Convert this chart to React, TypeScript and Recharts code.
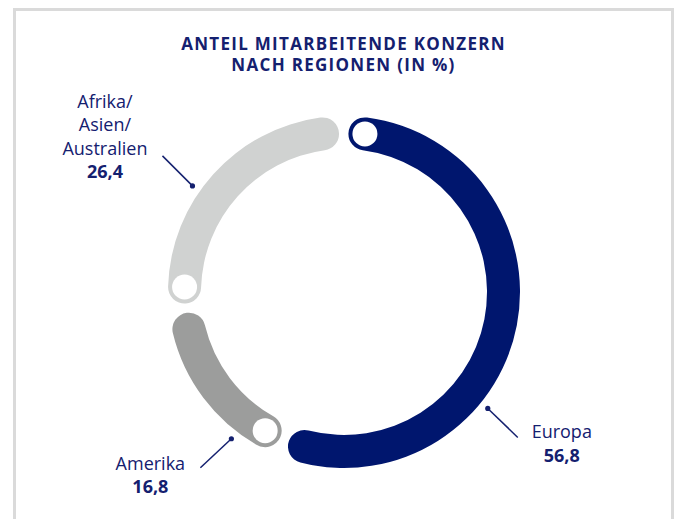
import { PieChart, Pie, Cell } from "recharts";

const REGIONS = ["Europa", "Amerika", "Afrika/Asien/Australien"];
const SHARES = [56.8, 16.8, 26.4];
const LABEL_LINES = [["Europa"], ["Amerika"], ["Afrika/", "Asien/", "Australien"]];
const COLORS = ["#00166e", "#9c9d9c", "#d0d2d1"];

const TEXT = "#14206f";
const RADIAN = Math.PI / 180;
const INNER = 143;
const OUTER = 176;
const CORNER = (OUTER - INNER) / 2;

// callout layout: angle clockwise from 12 o'clock, leader line vector, text offset from line end
const CALLOUTS = [
  { angle: 129, dx: 30, dy: 29, tx: 44, ty: 1 },
  { angle: 217.5, dx: -31, dy: 29, tx: -50, ty: 2 },
  { angle: 305, dx: -30, dy: -30, tx: -57.5, ty: -48 },
];

const data = REGIONS.map((name, i) => ({ name, value: SHARES[i] }));

const polar = (cx: number, cy: number, r: number, deg: number) => ({
  x: cx + Math.cos(-deg * RADIAN) * r,
  y: cy + Math.sin(-deg * RADIAN) * r,
});

const fmt = (v: number) => v.toFixed(1).replace(".", ",");

function renderLabel(props: any) {
  const { cx, cy, startAngle, index, value } = props;
  const mid = (INNER + OUTER) / 2;
  const capOffset = Math.asin(CORNER / mid) / RADIAN;
  const cap = polar(cx, cy, mid, startAngle - capOffset);
  const c = CALLOUTS[index];
  const dot = polar(cx, cy, OUTER + 9, 90 - c.angle);
  const end = { x: dot.x + c.dx, y: dot.y + c.dy };
  const lines = LABEL_LINES[index];
  const tx = end.x + c.tx;
  const ty = end.y + c.ty;
  return (
    <g key={`lbl-${index}`}>
      <circle cx={cap.x} cy={cap.y} r={12.5} fill="#fff" />
      <line x1={dot.x} y1={dot.y} x2={end.x} y2={end.y} stroke={TEXT} strokeWidth={1.5} />
      <circle cx={dot.x} cy={dot.y} r={2.6} fill={TEXT} />
      <text x={tx} y={ty} textAnchor="middle" fill={TEXT} fontSize={18} fontFamily="'Open Sans', sans-serif">
        {lines.map((l, i) => (
          <tspan key={i} x={tx} dy={i === 0 ? 0 : 23.4}>
            {l}
          </tspan>
        ))}
        <tspan x={tx} dy={23.4} fontWeight={700}>
          {fmt(value)}
        </tspan>
      </text>
    </g>
  );
}

export default function App() {
  return (
    <div
      style={{
        position: "absolute",
        left: 13,
        top: 8,
        width: 661,
        height: 540,
        boxSizing: "border-box",
        borderTop: "3px solid #dadada",
        borderLeft: "3px solid #dadada",
        borderRight: "3px solid #dadada",
        background: "#fff",
      }}
    >
      <div
        style={{
          position: "absolute",
          top: 22,
          left: 0,
          width: "100%",
          textAlign: "center",
          color: TEXT,
          fontFamily: "'Open Sans', sans-serif",
          fontWeight: 700,
          fontSize: 17,
          lineHeight: "21px",
          letterSpacing: 1.3,
        }}
      >
        ANTEIL MITARBEITENDE KONZERN
        <br />
        NACH REGIONEN (IN %)
      </div>
      <PieChart width={655} height={510} margin={{ top: 0, right: 0, bottom: 0, left: 0 }}>
        <Pie
          data={data}
          dataKey="value"
          nameKey="name"
          cx={328}
          cy={281}
          innerRadius={INNER}
          outerRadius={OUTER}
          startAngle={88.4}
          endAngle={-271.6}
          paddingAngle={3.4}
          cornerRadius={CORNER}
          stroke="none"
          label={renderLabel}
          labelLine={false}
          isAnimationActive={false}
        >
          {data.map((_d, i) => (
            <Cell key={i} fill={COLORS[i]} />
          ))}
        </Pie>
      </PieChart>
    </div>
  );
}
